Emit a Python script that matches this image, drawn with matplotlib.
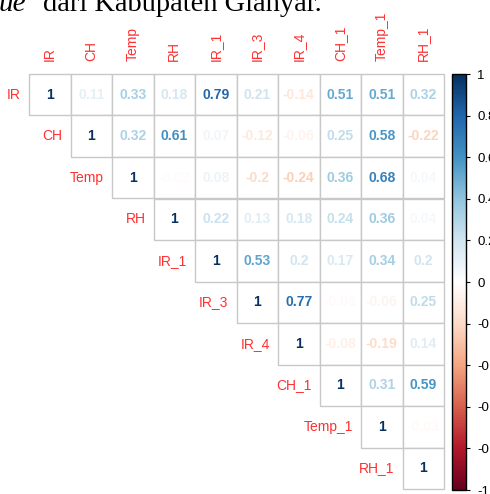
import numpy as np
import matplotlib.pyplot as plt
from matplotlib.colors import LinearSegmentedColormap, Normalize
from matplotlib.cm import ScalarMappable
from matplotlib.patches import Rectangle

plt.rcParams["font.family"] = ["Liberation Sans", "DejaVu Sans"]

variables = ["IR", "CH", "Temp", "RH", "IR_1", "IR_3", "IR_4", "CH_1", "Temp_1", "RH_1"]

# upper triangle of the correlation matrix, one row per variable (from the diagonal on)
upper_rows = [
    [1, 0.11, 0.33, 0.18, 0.79, 0.21, -0.14, 0.51, 0.51, 0.32],
    [1, 0.32, 0.61, 0.07, -0.12, -0.06, 0.25, 0.58, -0.22],
    [1, -0.02, 0.08, -0.2, -0.24, 0.36, 0.68, 0.04],
    [1, 0.22, 0.13, 0.18, 0.24, 0.36, 0.04],
    [1, 0.53, 0.2, 0.17, 0.34, 0.2],
    [1, 0.77, -0.03, -0.06, 0.25],
    [1, -0.08, -0.19, 0.14],
    [1, 0.31, 0.59],
    [1, -0.03],
    [1],
]

colorbar_ticks = [1, 0.8, 0.6, 0.4, 0.2, 0, -0.2, -0.4, -0.6, -0.8, -1]

# corrplot's RdBu palette
rdbu = LinearSegmentedColormap.from_list(
    "rdbu_corr",
    ["#67001F", "#B2182B", "#D6604D", "#F4A582", "#FDDBC7", "#FFFFFF",
     "#D1E5F0", "#92C5DE", "#4393C3", "#2166AC", "#053061"],
)
norm = Normalize(-1, 1)

W, H = 490, 494
fig = plt.figure(figsize=(W / 100, H / 100), dpi=100)

# caption fragment from the page above the chart
fig.text(-1 / W, 1 - 11 / H, "ue", fontsize=21, style="italic",
         family="Liberation Serif", va="baseline")
fig.text(43 / W, 1 - 11 / H, "dari Kabupaten Gianyar.", fontsize=20.5,
         family="Liberation Serif", va="baseline")

n = len(variables)
left, top, cell = 29, 74, 41.5
ax = fig.add_axes([left / W, 1 - (top + n * cell) / H, n * cell / W, n * cell / H])
ax.set_xlim(0, n)
ax.set_ylim(n, 0)
ax.axis("off")

for i, row in enumerate(upper_rows):
    for k, v in enumerate(row):
        j = i + k
        ax.add_patch(Rectangle((j, i), 1, 1, facecolor="white",
                               edgecolor="#C8C8C8", linewidth=1, clip_on=False))
        ax.text(j + 0.5, i + 0.5, f"{round(v, 2):g}", ha="center", va="center",
                fontsize=10, fontweight="bold", color=rdbu(norm(v)))

for i, name in enumerate(variables):
    ax.text(i - 0.19, i + 0.5, name, ha="right", va="center",
            fontsize=10, color="#FF3030", clip_on=False)
    ax.text(i + 0.5, -0.31, name, ha="center", va="bottom", rotation=90,
            fontsize=10, color="#FF3030", clip_on=False)

cax = fig.add_axes([452 / W, 1 - 490 / H, 14 / W, 416 / H])
cb = fig.colorbar(ScalarMappable(norm=norm, cmap=rdbu), cax=cax)
cb.set_ticks(colorbar_ticks)
cb.set_ticklabels([f"{t:g}" for t in colorbar_ticks])
cb.outline.set_linewidth(1)
cax.tick_params(labelsize=9.5, length=3, width=0.8, pad=5)

fig.savefig("out.png", dpi=100)
